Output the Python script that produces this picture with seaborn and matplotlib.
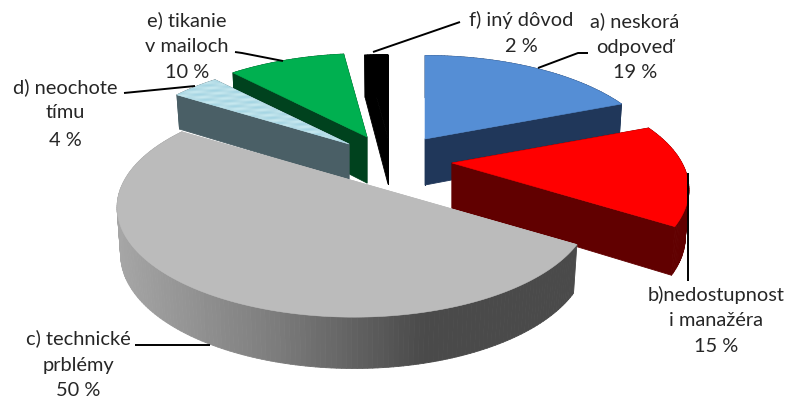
import numpy as np
import matplotlib
matplotlib.use("Agg")
import matplotlib.pyplot as plt
from matplotlib.collections import PolyCollection
from matplotlib.patches import Polygon
import seaborn as sns

# data
names = ["a", "b", "c", "d", "e", "f"]
values = [19, 15, 50, 4, 10, 2]
label_lines = [
    ["a) neskorá", "odpoveď", "19 %"],
    ["b)nedostupnost", "i manažéra", "15 %"],
    ["c) technické", "prblémy", "50 %"],
    ["d) neochote", "tímu", "4 %"],
    ["e) tikanie", "v mailoch", "10 %"],
    ["f) iný dôvod", "2 %"],
]

# styles
top_colors = ["#558ED5", "#FF0000", "#BBBBBB", "#B7DEE8", "#00B050", "#000000"]
side_colors = ["#20375A", "#610000", None, "#4A5F66", "#00421E", "#000000"]
apexes = [(425, 139), (452, 163), (354, 181), (349, 144), (367, 137), (388, 138)]
depth_factor = [1.0, 1.0, 1.0, 0.78, 1.0, 1.0]
label_centers = [(635, [21, 47, 73]), (716, [295, 321, 347]), (78, [338, 365, 391]),
                 (65, [87, 113, 140]), (187, [20, 47, 73]), (521, [20, 47])]
leaders = [
    [(538, 68), (578, 53), (588, 53)],
    [(688, 173), (688, 281)],
    [(135, 345), (210, 345)],
    [(124, 93), (195, 86)],
    [(235, 52), (242, 53), (283, 61)],
    [(373, 52), (460, 22)],
]
draw_order = [5, 4, 0, 3, 1, 2]
R, F, K, D = 230.0, 959.0, 0.45, 46.0

sns.set_theme(style="white")
plt.rcParams["font.family"] = ["Lato", "DejaVu Sans"]
gray_side = sns.blend_palette(["#A6A6A6", "#7E7E7E", "#4A4A4A", "#4A4A4A"], 256)
water = sns.blend_palette(["#A6D6E4", "#B7DEE8", "#C6E8EF"], 256)

fig = plt.figure(figsize=(7.94, 4.0), dpi=100, facecolor="white")
ax = fig.add_axes([0, 0, 1, 1])


def project(theta):
    X, Y = R * np.sin(theta), R * np.cos(theta)
    s = F / (F + Y)
    return X * s, -Y * K * s, s


fractions = np.array(values, dtype=float) / np.sum(values)
ends = np.cumsum(fractions) * 2 * np.pi
starts = ends - fractions * 2 * np.pi

for i in draw_order:
    ax_, ay = apexes[i]
    n = max(8, int(np.degrees(ends[i] - starts[i])))
    th = np.linspace(starts[i], ends[i], n + 1)
    px, py, s = project(th)
    tx, ty = ax_ + px, ay + py
    dep = D * depth_factor[i] * s ** 0.4
    bx, by = ax_ + px * 0.985, ay + py + dep
    apex_b = (ax_, ay + D * depth_factor[i])
    quads, cols = [], []
    for j in range(n):
        quads.append([(tx[j], ty[j]), (tx[j + 1], ty[j + 1]), (bx[j + 1], by[j + 1]), (bx[j], by[j])])
        if side_colors[i] is None:
            u = np.clip((tx[j] - 116) / (580 - 116), 0, 1)
            cols.append(gray_side[int(u * 255)])
        else:
            cols.append(side_colors[i])
    cut_col = side_colors[i] if side_colors[i] is not None else "#BBBBBB"
    for k in (0, n):
        quads.append([(ax_, ay), (tx[k], ty[k]), (bx[k], by[k]), apex_b])
        cols.append(cut_col)
    # cut faces first, then the outer wall
    order = [n, n + 1] + list(range(n))
    ax.add_collection(PolyCollection([quads[o] for o in order], facecolors=[cols[o] for o in order],
                                     edgecolors=[cols[o] for o in order], linewidths=0.6, zorder=2))
    verts = [(ax_, ay)] + list(zip(tx, ty))
    top = Polygon(verts, closed=True, facecolor=top_colors[i], edgecolor=top_colors[i], linewidth=0.4, zorder=2)
    ax.add_patch(top)
    if names[i] == "d":
        xx, yy = np.meshgrid(np.arange(170, 355), np.arange(70, 160))
        tex = 0.5 + 0.25 * np.sin(xx * 0.23 + yy * 0.9) + 0.25 * np.sin(xx * 0.07 - yy * 1.3)
        cmap = sns.blend_palette(water, as_cmap=True)
        im = ax.imshow(tex, extent=(170, 355, 160, 70), cmap=cmap, zorder=2.1, aspect="auto",
                       interpolation="bilinear")
        im.set_clip_path(top)

for pts in leaders:
    xs, ys = zip(*pts)
    ax.plot(xs, ys, color="black", lw=1.4, solid_capstyle="butt", zorder=3)

for lines, (cx, ys) in zip(label_lines, label_centers):
    for line, y in zip(lines, ys):
        ax.text(cx, y, line, ha="center", va="center", fontsize=14.4, color="#262626", zorder=4)

ax.set_xlim(0, 794)
ax.set_ylim(400, 0)
ax.axis("off")
sns.despine(ax=ax, left=True, bottom=True)
fig.savefig("out.png", dpi=100, facecolor="white")
